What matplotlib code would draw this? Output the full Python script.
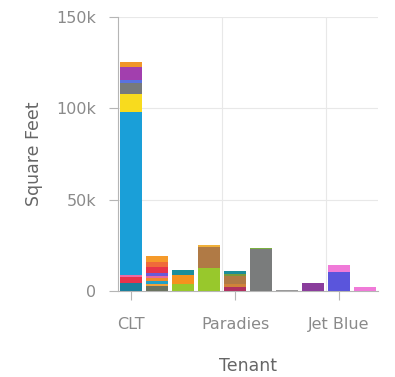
import numpy as np
import matplotlib
matplotlib.use("Agg")
import matplotlib.pyplot as plt
from matplotlib.ticker import FuncFormatter

# tenants along the x axis (only every 4th one is labelled in the chart)
tenants = ["CLT", "", "", "", "Paradies", "", "", "", "Jet Blue", ""]

# stacked square-feet segments per tenant (thousands), bottom to top
segments = [
    [4.5, 3.0, 1.5, 89.0, 10.0, 6.0, 1.5, 7.0, 2.8],
    [2.5, 1.5, 1.5, 1.5, 1.5, 1.5, 3.0, 3.0, 3.0],
    [4.0, 5.0, 2.5],
    [12.5, 11.5, 1.0],
    [2.0, 2.0, 4.0, 1.5, 1.5],
    [23.0, 0.5],
    [0.5],
    [4.4],
    [10.5, 3.5],
    [2.0],
]
seg_colors = [
    ["#1b7f9c", "#e8334a", "#ef6aa3", "#1a9fd8", "#f8db1e", "#777a7c", "#5a72e0", "#a23fae", "#f0962a"],
    ["#6b7360", "#f2a33a", "#21a0c8", "#f08a2c", "#e86aa0", "#6a5ad8", "#e8334a", "#f06a3a", "#f59a2a"],
    ["#98c82c", "#f5921e", "#1b8e9a"],
    ["#98c82c", "#b07a45", "#f0b03a"],
    ["#b03060", "#d0823a", "#b07a45", "#7a9a3a", "#1b8e9a"],
    ["#7a7c7c", "#7ab040"],
    ["#9a9a9a"],
    ["#8a3d9c"],
    ["#5a55dc", "#f07ad8"],
    ["#f07ad8"],
]

fig = plt.figure(figsize=(3.95, 3.77), dpi=100)
ax = fig.add_axes([0.299, 0.228, 0.658, 0.727])

x = np.arange(len(tenants))
for i, (vals, cols) in enumerate(zip(segments, seg_colors)):
    bottoms = np.concatenate([[0], np.cumsum(vals)[:-1]])
    ax.bar(np.full(len(vals), x[i]), vals, bottom=bottoms, width=0.85,
           color=cols, linewidth=0, zorder=3)

ax.set_xlim(-0.5, len(tenants) - 0.5)
ax.set_ylim(0, 150)
ax.set_yticks([0, 50, 100, 150])
ax.yaxis.set_major_formatter(FuncFormatter(lambda v, p: "0" if v == 0 else f"{int(v)}k"))

shown = [i for i, t in enumerate(tenants) if t]
ax.set_xticks(shown)
ax.set_xticklabels([tenants[i] for i in shown])

# grid: horizontal at y ticks, vertical at the left edge of labelled bands
for v in [50, 100, 150]:
    ax.axhline(v, color="#e8e8e8", lw=0.8, zorder=1)
for i in shown[1:]:
    ax.axvline(i - 0.5, color="#e8e8e8", lw=0.8, zorder=1)

for s in ["top", "right"]:
    ax.spines[s].set_visible(False)
for s in ["left", "bottom"]:
    ax.spines[s].set_color("#b5b5b5")
    ax.spines[s].set_linewidth(0.8)

ax.tick_params(colors="#b5b5b5", labelcolor="#8a8a8a", labelsize=11.5, length=6.5, width=0.8)
ax.tick_params(axis="y", pad=9)
ax.tick_params(axis="x", pad=12)

ax.set_ylabel("Square Feet", fontsize=12.5, color="#666666", labelpad=10)
ax.set_xlabel("Tenant", fontsize=12.5, color="#666666", labelpad=18)

fig.savefig("out.png", dpi=100, facecolor="white")
